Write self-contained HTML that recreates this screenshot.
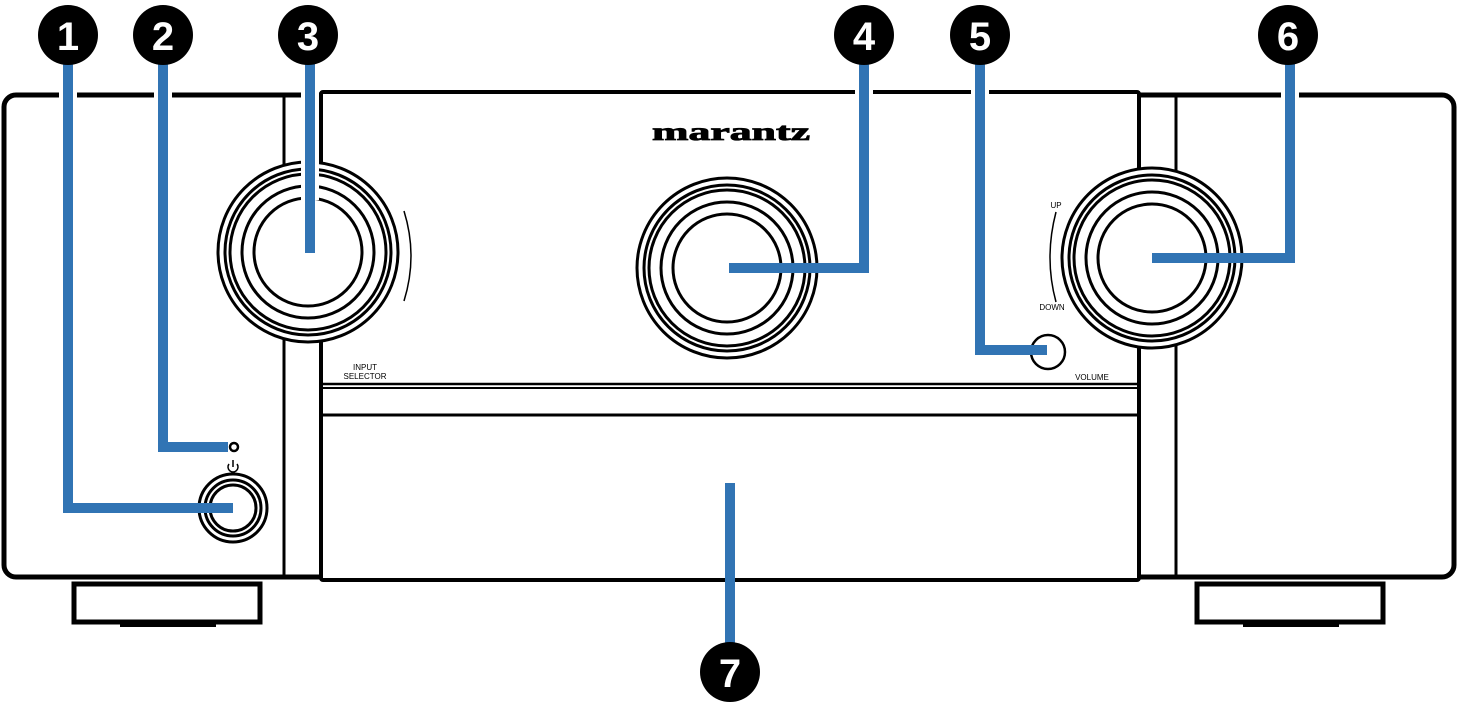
<!DOCTYPE html>
<html><head><meta charset="utf-8"><style>body{margin:0;background:#fff}svg{display:block}</style></head><body>
<svg width="1459" height="703" viewBox="0 0 1459 703" xmlns="http://www.w3.org/2000/svg" font-family="Liberation Sans, sans-serif">
<g fill="none" stroke="#000">
<!-- feet -->
<rect x="74" y="584" width="186" height="38" stroke-width="5"/>
<rect x="120" y="620" width="96" height="7" fill="#000" stroke="none"/>
<rect x="1197" y="584" width="186" height="38" stroke-width="5"/>
<rect x="1243" y="620" width="96" height="7" fill="#000" stroke="none"/>
<!-- body -->
<rect x="4" y="95" width="1450" height="482" rx="12" stroke-width="5" fill="#fff"/>
<line x1="284" y1="95" x2="284" y2="577" stroke-width="3"/>
<line x1="1176" y1="95" x2="1176" y2="577" stroke-width="3"/>
<rect x="321" y="92" width="818" height="488" rx="2" stroke-width="4" fill="#fff"/>
<line x1="321" y1="384" x2="1139" y2="384" stroke-width="2.5"/>
<line x1="321" y1="388" x2="1139" y2="388" stroke-width="2"/>
<line x1="321" y1="415" x2="1139" y2="415" stroke-width="3"/>
<!-- knobs -->
<g stroke-width="3" fill="#fff">
<circle cx="308" cy="252" r="90"/><circle cx="308" cy="252" r="83"/><circle cx="308" cy="252" r="78"/><circle cx="308" cy="252" r="66"/><circle cx="308" cy="252" r="54"/>
<circle cx="727" cy="268" r="90"/><circle cx="727" cy="268" r="83"/><circle cx="727" cy="268" r="78"/><circle cx="727" cy="268" r="66"/><circle cx="727" cy="268" r="54"/>
<circle cx="1152" cy="258" r="90"/><circle cx="1152" cy="258" r="83"/><circle cx="1152" cy="258" r="78"/><circle cx="1152" cy="258" r="66"/><circle cx="1152" cy="258" r="54"/>
<circle cx="233" cy="508" r="34"/><circle cx="233" cy="508" r="28"/><circle cx="233" cy="508" r="23"/>
</g>
<path d="M404 211 Q418 256 404 301" stroke-width="1.5"/>
<path d="M1056 212 Q1044 258 1056 302" stroke-width="1.5"/>
<circle cx="1048" cy="352" r="17" stroke-width="2.5"/>
<circle cx="234" cy="447" r="4" stroke-width="2.5"/>
<path d="M229 464 A5 5 0 1 0 237 464 M233 460 V467" stroke-width="1.5"/>
</g>
<g font-size="8" text-anchor="middle" fill="#000">
<text x="365" y="370">INPUT</text><text x="365" y="379">SELECTOR</text>
<text x="1092" y="380">VOLUME</text>
<text x="1056" y="208">UP</text><text x="1052" y="310">DOWN</text>
</g>
<text x="652" y="140" textLength="158" lengthAdjust="spacingAndGlyphs" font-family="Liberation Serif, serif" font-weight="bold" font-size="25" fill="#000" stroke="#000" stroke-width="0.8">marantz</text>
<!-- leaders -->
<g fill="none" stroke="#fff" stroke-width="18">
<path d="M68 60 V508"/><path d="M163 60 V447"/><path d="M310 60 V200"/><path d="M864 60 V120"/><path d="M980 60 V120"/><path d="M1290 60 V120"/>
</g>
<g fill="none" stroke="#3174b4" stroke-width="10">
<path d="M68 60 V508 H233"/>
<path d="M163 60 V447 H228"/>
<path d="M310 60 V253"/>
<path d="M864 60 V268 H729"/>
<path d="M980 60 V350 H1047"/>
<path d="M1290 60 V258 H1152"/>
<path d="M730 483 V650"/>
</g>
<g font-size="40" font-weight="bold" text-anchor="middle" fill="#fff">
<circle cx="68" cy="35" r="30" fill="#000"/><text x="68" y="50">1</text>
<circle cx="163" cy="35" r="30" fill="#000"/><text x="163" y="50">2</text>
<circle cx="308" cy="35" r="30" fill="#000"/><text x="308" y="50">3</text>
<circle cx="864" cy="35" r="30" fill="#000"/><text x="864" y="50">4</text>
<circle cx="980" cy="35" r="30" fill="#000"/><text x="980" y="50">5</text>
<circle cx="1288" cy="35" r="30" fill="#000"/><text x="1288" y="50">6</text>
<circle cx="730" cy="672" r="30" fill="#000"/><text x="730" y="687">7</text>
</g>
</svg>
</body></html>
